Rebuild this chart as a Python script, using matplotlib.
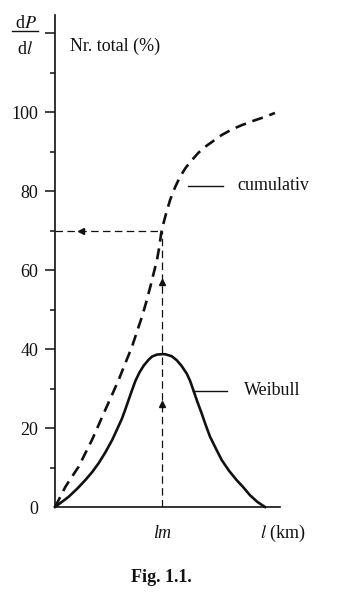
import matplotlib
matplotlib.use("Agg")
import matplotlib.pyplot as plt
from matplotlib.lines import Line2D

plt.rcParams["font.family"] = ["Liberation Serif", "DejaVu Serif"]
plt.rcParams["mathtext.fontset"] = "stix"

# Weibull density (dP/dl), lengths in units of lm
weibull_x = [0, 0.065, 0.128, 0.206, 0.283, 0.346, 0.408, 0.470, 0.533, 0.579,
             0.626, 0.657, 0.689, 0.720, 0.751, 0.788, 0.829, 0.875, 0.907, 0.953,
             1.0, 1.028, 1.090, 1.137, 1.184, 1.231, 1.262, 1.293, 1.330, 1.371,
             1.408, 1.449, 1.502, 1.558, 1.626, 1.698, 1.760, 1.822, 1.891, 1.963]
weibull_y = [0, 1.3, 2.6, 4.6, 6.8, 8.8, 11.1, 13.8, 16.9, 19.6,
             22.4, 24.7, 27.2, 29.6, 31.9, 34.0, 35.8, 37.3, 38.1, 38.6,
             38.7, 38.7, 38.2, 37.2, 35.7, 33.8, 32.0, 29.6, 26.7, 23.7,
             20.8, 17.8, 14.9, 11.9, 9.2, 6.8, 5.0, 3.0, 1.3, 0]

# cumulative total (%)
cum_x = [0, 0.050, 0.097, 0.159, 0.221, 0.283, 0.346, 0.408, 0.470, 0.533,
         0.595, 0.657, 0.720, 0.766, 0.813, 0.854, 0.891, 0.922, 0.953, 0.975,
         0.996, 1.034, 1.075, 1.121, 1.168, 1.221, 1.278, 1.340, 1.402, 1.480,
         1.558, 1.651, 1.745, 1.853, 1.963, 2.056]
cum_y = [0, 2.6, 5.1, 7.7, 10.2, 13.6, 17.0, 20.8, 24.6, 28.4,
         32.2, 36.4, 40.6, 44.4, 48.2, 52.0, 55.8, 59.2, 62.5, 65.9,
         70.0, 73.9, 77.7, 80.9, 83.6, 85.9, 87.8, 89.7, 91.2, 92.7,
         94.2, 95.6, 96.7, 97.8, 98.8, 99.8]

lm = 1.0
cum_at_lm = 70

yticks = [0, 20, 40, 60, 80, 100, 120]
ytick_labels = ["0", "20", "40", "60", "80", "100", ""]
yminor = [10, 30, 50, 70, 90, 110]

ink = "#111111"

fig = plt.figure(figsize=(3.39, 5.97), dpi=100)
ax = fig.add_axes([55 / 339, 90 / 597, 225 / 339, 492 / 597])
ax.set_xlim(0, 2.103)
ax.set_ylim(0, 124.6)

for s in ["top", "right"]:
    ax.spines[s].set_visible(False)
for s in ["left", "bottom"]:
    ax.spines[s].set_linewidth(1.2)
    ax.spines[s].set_color(ink)

ax.set_xticks([])
ax.set_yticks(yticks)
ax.set_yticklabels(ytick_labels)
ax.set_yticks(yminor, minor=True)
ax.tick_params(axis="y", which="major", direction="out", length=7, width=1.1,
               color=ink, labelsize=13, pad=5, labelcolor=ink)
ax.tick_params(axis="y", which="minor", direction="out", length=3.5, width=1.1, color=ink)
ax.yaxis.get_major_ticks()[0].tick1line.set_visible(False)

# curves
ax.plot(weibull_x, weibull_y, color=ink, lw=1.9, solid_joinstyle="round", clip_on=False)
ax.plot(cum_x, cum_y, color=ink, lw=1.9, dashes=(4.2, 2.6), clip_on=False)

# guide lines at lm
ax.plot([lm, lm], [0, cum_at_lm], color=ink, lw=0.9, dashes=(6, 3.5))
ax.plot([0, lm], [cum_at_lm, cum_at_lm], color=ink, lw=0.9, dashes=(6, 3.5))
ax.plot([lm, lm], [26, 57], ls="none", marker="^", ms=4.5, color=ink)
ax.plot([0.24], [cum_at_lm], ls="none", marker="<", ms=4.5, color=ink)

# leaders and curve labels
ax.plot([1.243, 1.57], [81.3, 81.3], color=ink, lw=1.0)
ax.text(1.70, 81.3, "cumulativ", fontsize=13, va="center", ha="left", color=ink)
ax.plot([1.29, 1.607], [29.4, 29.4], color=ink, lw=1.0)
ax.text(1.77, 29.6, "Weibull", fontsize=13, va="center", ha="left", color=ink)

# axis labels
ax.text(lm, -6.6, "lm", fontsize=13, style="italic", ha="center", va="center", color=ink)
ax.text(2.13, -6.6, r"$l$ (km)", fontsize=13, ha="center", va="center", color=ink,
        clip_on=False)
fig.text(70 / 339, 1 - 46 / 597, "Nr. total (%)", fontsize=13, ha="left", va="center",
         color=ink)
fig.text(26 / 339, 1 - 23 / 597, r"d$P$", fontsize=13, ha="center", va="center", color=ink)
fig.text(25 / 339, 1 - 49 / 597, r"d$l$", fontsize=13, ha="center", va="center", color=ink)
fig.add_artist(Line2D([12 / 339, 38 / 339], [1 - 31 / 597, 1 - 31 / 597],
                      color=ink, lw=1.0, transform=fig.transFigure))

fig.text(161 / 339, 1 - 577 / 597, "Fig. 1.1.", fontsize=13, fontweight="bold",
         ha="center", va="center", color=ink)

fig.savefig("out.png", dpi=100)
